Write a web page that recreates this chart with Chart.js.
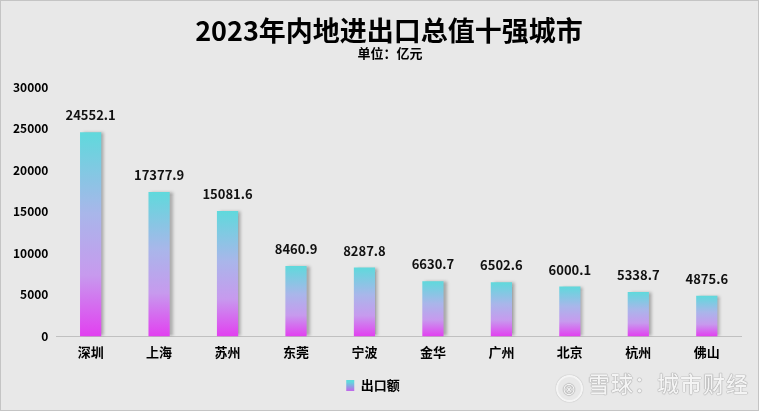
<!DOCTYPE html>
<html><head><meta charset="utf-8">
<script src="https://cdn.jsdelivr.net/npm/chart.js@4/dist/chart.umd.min.js"></script>
<style>
html,body{margin:0;padding:0;background:#e8e8e8;}
#wrap{position:relative;width:759px;height:411px;box-sizing:border-box;border:1px solid #c4c4c4;background:#e8e8e8;overflow:hidden;}
canvas{display:block;}
#title{position:absolute;left:0;width:776px;top:11px;text-align:center;font:bold 27px "Noto Sans CJK SC";color:#000;line-height:36px;white-space:nowrap;}
#sub{position:absolute;left:0;width:778px;top:43px;text-align:center;font:bold 13px "Noto Sans CJK SC";color:#000;line-height:18px;}
#wm{position:absolute;left:555px;top:366px;font:500 22px "Noto Sans CJK SC";color:#f4f4f4;text-shadow:0 0 1px #888,0 0 1px #888;letter-spacing:1px;white-space:nowrap;line-height:30px;}
#wm span{display:inline-block;width:23px;height:23px;border:2px solid #f4f4f4;border-radius:50%;box-shadow:0 0 1px #888;vertical-align:-3px;margin-right:5px;font-size:15px;line-height:23px;text-align:center;}
</style></head>
<body>
<div id="wrap"><canvas id="c" width="757" height="409"></canvas>
<div id="title"></div><div id="sub"></div>
<div id="wm"><span>⊗</span>雪球：城市财经</div></div>
<script>
const categories = ["深圳","上海","苏州","东莞","宁波","金华","广州","北京","杭州","佛山"];
const exportValues = [24552.1,17377.9,15081.6,8460.9,8287.8,6630.7,6502.6,6000.1,5338.7,4875.6];
const seriesName = "出口额";
const titleText = "2023年内地进出口总值十强城市";
const subtitleText = "单位：亿元";
const yTicks = [0,5000,10000,15000,20000,25000,30000];

document.getElementById('title').textContent = titleText;
document.getElementById('sub').textContent = subtitleText;

const FONT = '"Noto Sans CJK SC", "Noto Sans", sans-serif';

function barGradient(ctx, top, bottom){
  const g = ctx.createLinearGradient(0, top, 0, bottom);
  g.addColorStop(0, '#5fd9dc');
  g.addColorStop(0.4, '#a9b6ea');
  g.addColorStop(0.7, '#c79aee');
  g.addColorStop(1, '#e23ff0');
  return g;
}

const shadowPlugin = {
  id:'shadow',
  beforeDatasetsDraw(chart){
    const c = chart.ctx; c.save();
    c.shadowColor='rgba(0,0,0,0.28)'; c.shadowOffsetX=3; c.shadowOffsetY=0; c.shadowBlur=3;
  },
  afterDatasetsDraw(chart){ chart.ctx.restore(); }
};

const labelPlugin = {
  id:'vals',
  afterDatasetsDraw(chart){
    const c = chart.ctx;
    const meta = chart.getDatasetMeta(0);
    c.save();
    c.font = 'bold 13px ' + FONT;
    c.fillStyle = '#111';
    c.textAlign = 'center';
    c.textBaseline = 'alphabetic';
    meta.data.forEach((bar,i)=>{
      c.fillText(exportValues[i].toFixed(1), bar.x, bar.y - 12);
    });
    c.restore();
  }
};

new Chart(document.getElementById('c'), {
  type:'bar',
  data:{
    labels:categories,
    datasets:[{
      label:seriesName,
      data:exportValues,
      backgroundColor(context){
        const chart = context.chart;
        const y = chart.scales && chart.scales.y;
        if(!y || context.dataIndex === undefined) return '#b9a6ea';
        const v = context.raw;
        return barGradient(chart.ctx, y.getPixelForValue(v), y.getPixelForValue(0));
      },
      borderWidth:0,
      barPercentage:0.31,
      categoryPercentage:1.0
    }]
  },
  options:{
    responsive:false,
    animation:false,
    devicePixelRatio:1,
    layout:{padding:{left:4,right:17,top:86,bottom:8}},
    plugins:{
      title:{display:false},
      legend:{
        position:'bottom',
        labels:{
          color:'#000',
          font:{family:FONT,size:13,weight:'bold'},
          boxWidth:8, boxHeight:11, padding:11,
          generateLabels(chart){
            const g = chart.ctx.createLinearGradient(0,381,0,393);
            g.addColorStop(0,'#5fd9dc'); g.addColorStop(1,'#e23ff0');
            return [{text:seriesName, fillStyle:g, strokeStyle:'rgba(0,0,0,0)', lineWidth:0, datasetIndex:0, fontColor:'#000'}];
          }
        }
      },
      tooltip:{enabled:false}
    },
    scales:{
      x:{
        grid:{display:false, drawTicks:false},
        border:{display:true,color:'#c0c0c0',width:1},
        ticks:{color:'#000',font:{family:FONT,size:13,weight:'bold'},padding:8}
      },
      y:{
        min:0,max:30000,
        afterBuildTicks(axis){ axis.ticks = yTicks.map(v=>({value:v})); },
        grid:{display:false, drawTicks:false},
        border:{display:false},
        ticks:{color:'#000',font:{family:FONT,size:12,weight:'bold'},padding:8,callback:v=>String(v)}
      }
    }
  },
  plugins:[shadowPlugin,labelPlugin]
});
</script>
</body></html>
